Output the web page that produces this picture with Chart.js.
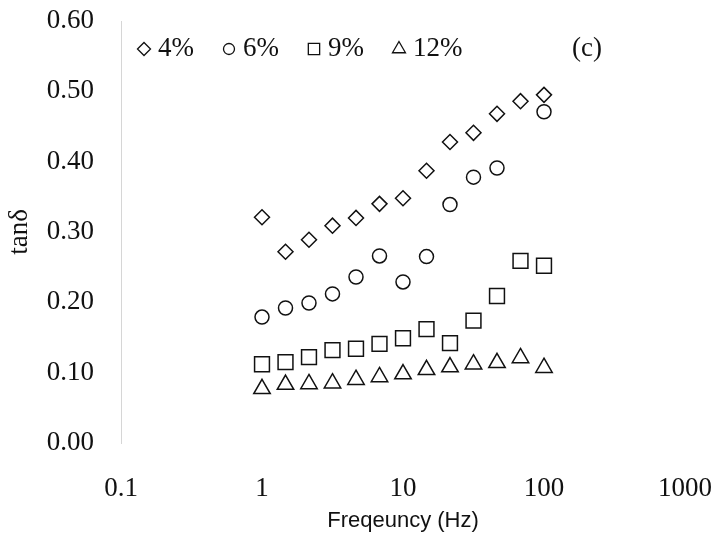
<!DOCTYPE html>
<html>
<head>
<meta charset="utf-8">
<script src="https://cdn.jsdelivr.net/npm/chart.js@4/dist/chart.umd.min.js"></script>
<style>
  html, body { margin: 0; padding: 0; background: #fff; }
  .plot-wrap { width: 714px; height: 541px; position: relative; }
</style>
</head>
<body>
<div class="plot-wrap"><canvas id="tanDelta"></canvas></div>
<script>
// frequency sweep, 6 points per decade from 1 to 100 Hz
const frequencies = [1, 1.468, 2.154, 3.162, 4.642, 6.813, 10, 14.68, 21.54, 31.62, 46.42, 68.13, 100];

const tan4 = [0.321, 0.272, 0.289, 0.309, 0.320, 0.340, 0.348, 0.387, 0.428, 0.441, 0.468, 0.486, 0.495];
const tan6 = [0.179, 0.192, 0.199, 0.212, 0.236, 0.266, 0.229, 0.265, 0.339, 0.378, 0.391, null, 0.471];
const tan9 = [0.112, 0.115, 0.122, 0.132, 0.134, 0.141, 0.149, 0.162, 0.142, 0.174, 0.209, 0.259, 0.252];
const tan12 = [0.077, 0.083, 0.084, 0.085, 0.090, 0.094, 0.098, 0.104, 0.108, 0.112, 0.114, 0.121, 0.107];

const seriesLabels = ["4%", "6%", "9%", "12%"];
const xTickValues = [0.1, 1, 10, 100, 1000];
const yTickValues = [0, 0.1, 0.2, 0.3, 0.4, 0.5, 0.6];
const panelTag = "(c)";

const serif = '"Liberation Serif", "Times New Roman", serif';
const ink = "#111";

function toPoints(values) {
  return frequencies
    .map(function(f, i) { return { x: f, y: values[i] }; })
    .filter(function(p) { return p.y !== null; });
}

// marker look per series: [style, radius in plot, radius in key]
const markers = [
  ["rectRot", 7.5, 6.5],
  ["circle", 7, 5.5],
  ["rect", 10.5, 8],
  ["triangle", 9.5, 7.5]
];

const datasets = [tan4, tan6, tan9, tan12].map(function(values, i) {
  return {
    label: seriesLabels[i],
    data: toPoints(values),
    showLine: false,
    pointStyle: markers[i][0],
    pointRadius: markers[i][1],
    pointHoverRadius: markers[i][1],
    pointBorderWidth: 1.5,
    pointBorderColor: ink,
    pointBackgroundColor: "rgba(0,0,0,0)",
    keyRadius: markers[i][2]
  };
});

// key row and panel tag drawn inside the plot
const keyRow = {
  id: "keyRow",
  afterDraw(chart) {
    const ctx = chart.ctx;
    const y = 49;
    let x = 144;
    ctx.save();
    ctx.font = "27px " + serif;
    ctx.fillStyle = ink;
    ctx.textBaseline = "middle";
    chart.data.datasets.forEach(function(ds) {
      const opts = { pointStyle: ds.pointStyle, radius: ds.keyRadius, rotation: 0, borderWidth: 1.3 };
      ctx.strokeStyle = ink;
      ctx.lineWidth = 1.3;
      ctx.fillStyle = "rgba(0,0,0,0)";
      Chart.helpers.drawPoint(ctx, opts, x, y);
      ctx.fillStyle = ink;
      ctx.textAlign = "left";
      ctx.fillText(ds.label, x + 14, y);
      x += 14 + ctx.measureText(ds.label).width + 35;
    });
    ctx.textAlign = "center";
    ctx.fillText(panelTag, 587, y);
    ctx.restore();
  }
};

new Chart(document.getElementById("tanDelta"), {
  type: "scatter",
  data: { datasets: datasets },
  plugins: [keyRow],
  options: {
    responsive: true,
    maintainAspectRatio: false,
    animation: false,
    layout: { padding: { left: 0, right: 29, top: 21, bottom: 0 } },
    plugins: {
      legend: { display: false },
      tooltip: { enabled: false }
    },
    scales: {
      x: {
        type: "logarithmic",
        min: 0.1,
        max: 1000,
        afterBuildTicks: function(scale) {
          scale.ticks = xTickValues.map(function(v) { return { value: v }; });
        },
        // fixed band height, and no extra room for the end labels
        afterFit: function(scale) {
          scale.height = 98;
          scale.paddingLeft = 0;
          scale.paddingRight = 0;
        },
        grid: { display: false, drawTicks: false },
        border: { display: false },
        ticks: {
          padding: 30,
          maxRotation: 0,
          autoSkip: false,
          color: ink,
          font: { family: serif, size: 27 },
          callback: function(value) { return String(value); }
        },
        title: {
          display: true,
          text: "Freqeuncy (Hz)",
          color: ink,
          font: { family: '"Liberation Sans Narrow", "Liberation Sans", sans-serif', size: 22 },
          padding: { top: 0, bottom: 7 }
        }
      },
      y: {
        min: 0,
        max: 0.6,
        afterBuildTicks: function(scale) {
          scale.ticks = yTickValues.map(function(v) { return { value: v }; });
        },
        afterFit: function(scale) {
          scale.width = 121;
          scale.paddingTop = 0;
          scale.paddingBottom = 0;
        },
        grid: { display: false, drawTicks: false },
        border: { display: true, color: "#d6d6d6", width: 1, dash: [1, 2] },
        ticks: {
          padding: 27,
          color: ink,
          font: { family: serif, size: 27 },
          callback: function(value) { return value.toFixed(2); }
        },
        title: {
          display: true,
          text: "tanδ",
          color: ink,
          font: { family: serif, size: 27 },
          padding: { top: 4, bottom: 0 }
        }
      }
    }
  }
});
</script>
</body>
</html>
